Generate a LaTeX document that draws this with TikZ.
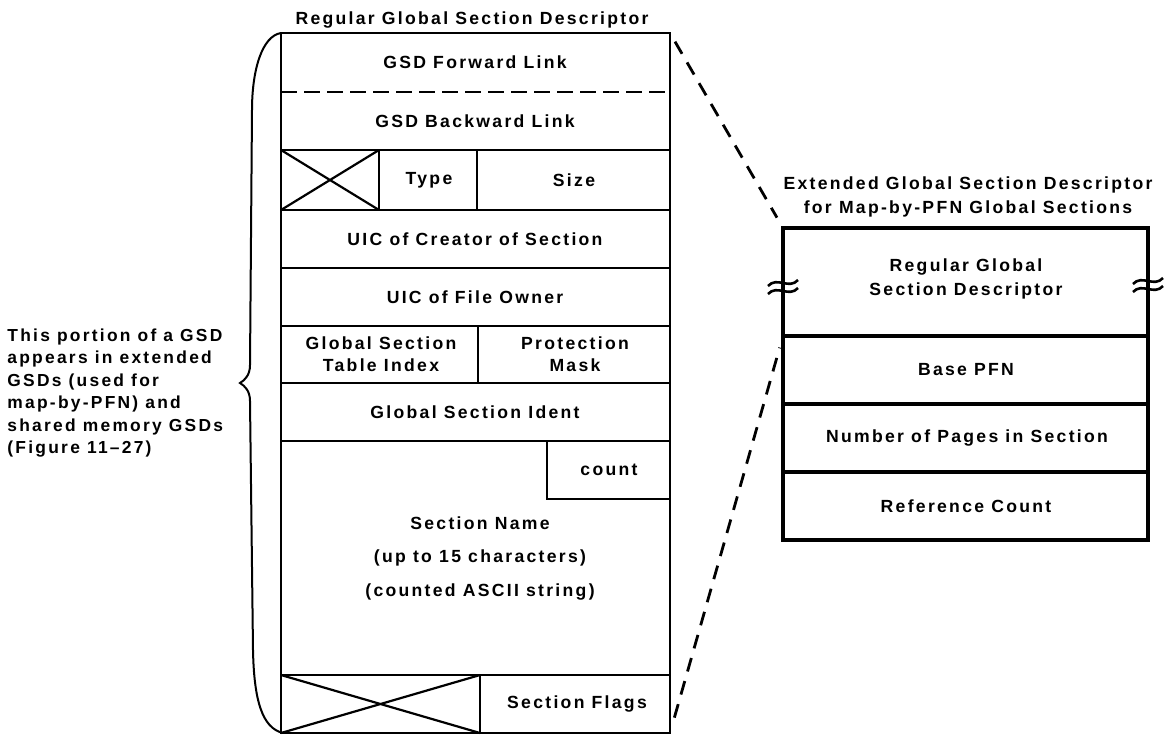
\documentclass[tikz,border=0pt]{standalone}
\usepackage{fontspec}
\setmainfont{Liberation Sans}[LetterSpace=13]

\begin{document}
\begin{tikzpicture}[x=0.5pt,y=-0.5pt,line width=1.4pt,
  txt/.style={font=\fontsize{8.8}{11.25}\selectfont\bfseries,inner sep=0pt,align=center},
  rayas/.style={dash pattern=on 7pt off 5pt,shorten <=5pt,shorten >=6pt}]
  \useasboundingbox (0,0) rectangle (1169,736);
  % descriptor regular: marco y filas
  \draw (281,33) rectangle (670,733);
  \draw[dash pattern=on 8pt off 3.5pt] (281,92) -- (670,92);
  \foreach \y in {150,210,268,326,383,441,675} \draw (281,\y) -- (670,\y);
  \draw (379,150) -- (379,210) (477,150) -- (477,210);
  \draw (478,326) -- (478,383);
  \draw (547,441) -- (547,499) -- (670,499);
  \draw (480,675) -- (480,733);
  % campos sin uso (cruzados)
  \draw[line width=1.1pt] (281,150) -- (379,210) (281,210) -- (379,150);
  \draw[line width=1.1pt] (281,675) -- (480,733) (281,733) -- (480,675);
  \node[txt] (titulo) at (472,20) {Regular Global Section Descriptor};
  \node[txt] (fwd) at (475,62) {GSD Forward Link};
  \node[txt] (bwd) at (475,121) {GSD Backward Link};
  \node[txt] (tipo) at (429,180) {Type};
  \node[txt] (tam) at (574,180) {Size};
  \node[txt] (uicc) at (475,239) {UIC of Creator of Section};
  \node[txt] (uicp) at (475,297) {UIC of File Owner};
  \node[txt] (indice) at (381,354) {Global Section\\Table Index};
  \node[txt] (mascara) at (575,354) {Protection\\Mask};
  \node[txt] (ident) at (475,412) {Global Section Ident};
  \node[txt] (cuenta) at (609,470) {count};
  \node[txt,font=\fontsize{8.8}{16.75}\selectfont\bfseries] (nombre) at (480,558)
    {Section Name\\(up to 15 characters)\\(counted ASCII string)};
  \node[txt] (banderas) at (577,704) {Section Flags};
  % llave y nota
  \draw[line width=1pt] (281,33) .. controls (262,36) and (252,70) .. (252,110)
    -- (250,365) .. controls (250,375) and (245,380) .. (240,383)
    .. controls (245,386) and (250,391) .. (250,401)
    -- (253,650) .. controls (254,700) and (262,728) .. (283,733);
  \node[txt,font=\fontsize{8.7}{11.25}\selectfont\bfseries,align=left,anchor=west] (nota) at (6,393)
    {This portion of a GSD\\appears in extended\\GSDs (used for\\map-by-PFN) and\\shared memory GSDs\\(Figure 11--27)};
  % descriptor extendido
  \begin{scope}[line width=1.7pt]
    \draw (783,228) rectangle (1148,540);
    \foreach \y in {336,404,472} \draw (783,\y) -- (1148,\y);
    \foreach \x/\y in {783/287,1148/285} \foreach \d in {-4,4}
      \draw[line width=1.3pt] (\x-15,\y+\d+3) .. controls (\x-6,\y+\d-7) and (\x+6,\y+\d+7) .. (\x+15,\y+\d-3);
  \end{scope}
  \node[txt,font=\fontsize{8.8}{12}\selectfont\bfseries] (extitulo) at (968,197)
    {Extended Global Section Descriptor\\for Map-by-PFN Global Sections};
  \node[txt,font=\fontsize{8.8}{12}\selectfont\bfseries] (regular) at (966,279)
    {Regular Global\\Section Descriptor};
  \node[txt] (pfn) at (966,370) {Base PFN};
  \node[txt] (paginas) at (967,438) {Number of Pages in Section};
  \node[txt] (refs) at (966,506) {Reference Count};
  % lineas de correspondencia
  \coordinate (izq-ne) at (670,33);
  \coordinate (izq-se) at (670,733);
  \coordinate (der-nw) at (783,228);
  \coordinate (der-sw) at (783,336);
  \draw[rayas] (izq-ne) -- (der-nw);
  \draw[rayas,shorten <=8pt] (izq-se) -- (der-sw);
\end{tikzpicture}
\end{document}
